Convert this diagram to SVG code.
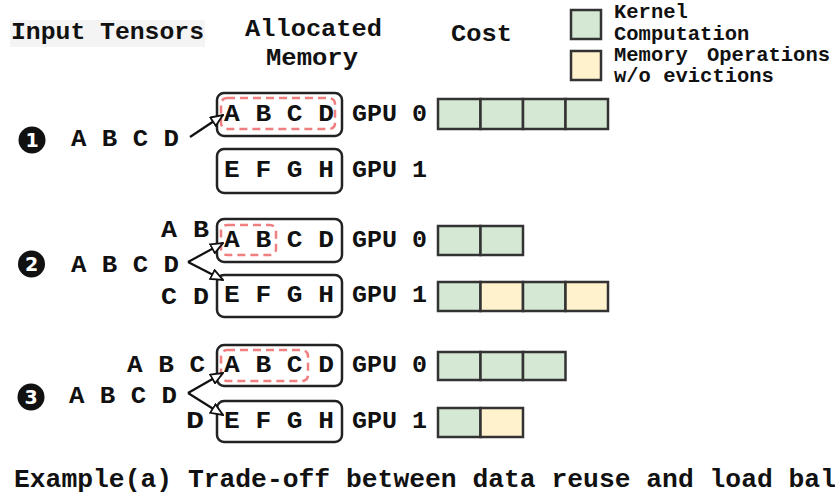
<svg xmlns="http://www.w3.org/2000/svg" width="835" height="494" viewBox="0 0 835 494">
<style>
text{font-family:"Liberation Mono","DejaVu Sans Mono",monospace;font-weight:bold;fill:#111}
.h{font-size:24px}
.l{font-size:24px}
.g{font-size:23px}
.lg{font-size:20.5px}
.cap{font-size:26px}
.box{fill:#fff;stroke:#222;stroke-width:2.5}
.sel{fill:none;stroke:#f07f7f;stroke-width:2.5;stroke-dasharray:8 5}
.k{fill:#d5e8d4;stroke:#333;stroke-width:2.5}
.m{fill:#fff2cc;stroke:#333;stroke-width:2.5}
.arr{fill:none;stroke:#111;stroke-width:2.2;marker-end:url(#ah)}
.badge{fill:#111}
.bt{fill:#fff;font-family:"DejaVu Sans","Liberation Sans",sans-serif;font-size:19px;font-weight:bold;text-anchor:middle}
</style>
<defs>
<marker id="ah" viewBox="0 0 14 12" refX="13" refY="6" markerWidth="14" markerHeight="12" markerUnits="userSpaceOnUse" orient="auto">
<path d="M1,1 L13,6 L1,11 z" fill="#fff" stroke="#111" stroke-width="1.8" stroke-linejoin="miter"/>
</marker>
</defs>
<rect width="835" height="494" fill="#fff"/>

<g id="headers">
<rect x="10" y="20" width="195" height="27" fill="#f4f4f4"/>
<text class="h" x="11" y="39" textLength="193" lengthAdjust="spacingAndGlyphs">Input Tensors</text>
<text class="h" x="245" y="36" textLength="137" lengthAdjust="spacingAndGlyphs">Allocated</text>
<text class="h" x="266" y="65" textLength="92" lengthAdjust="spacingAndGlyphs">Memory</text>
<text class="h" x="451" y="41" textLength="61" lengthAdjust="spacingAndGlyphs">Cost</text>
</g>

<g id="legend">
<rect class="k" x="571" y="10" width="30" height="29"/>
<rect class="m" x="571" y="51" width="30" height="29"/>
<text class="lg" x="614" y="18">Kernel</text>
<text class="lg" x="614" y="40">Computation</text>
<text class="lg" x="614" y="61">Memory<tspan x="707">Operations</tspan></text>
<text class="lg" x="614" y="82">w/o evictions</text>
</g>

<g id="scenario1">
<g id="badge1"><circle class="badge" cx="32" cy="140" r="13.5"/><text class="bt" x="32" y="147">1</text></g>
<g id="input1"><text class="l" x="71" y="146" textLength="108" lengthAdjust="spacingAndGlyphs">A B C D</text></g>
<g id="s1gpu0">
<rect class="box" x="217" y="93" width="125" height="43" rx="7"/>
<rect class="sel" x="221" y="98" width="114" height="31" rx="6"/>
<text class="l" x="224" y="121" textLength="110" lengthAdjust="spacingAndGlyphs">A B C D</text>
<text class="g" x="352" y="121" textLength="75" lengthAdjust="spacingAndGlyphs">GPU 0</text>
</g>
<g id="s1gpu1">
<rect class="box" x="217" y="149" width="125" height="44" rx="7"/>
<text class="l" x="224" y="177" textLength="110" lengthAdjust="spacingAndGlyphs">E F G H</text>
<text class="g" x="352" y="177" textLength="75" lengthAdjust="spacingAndGlyphs">GPU 1</text>
</g>
<g id="s1cost0">
<rect class="k" x="438" y="99" width="42.5" height="30"/>
<rect class="k" x="480.5" y="99" width="42.5" height="30"/>
<rect class="k" x="523" y="99" width="42.5" height="30"/>
<rect class="k" x="565.5" y="99" width="42.5" height="30"/>
</g>
</g>

<g id="scenario2">
<g id="badge2"><circle class="badge" cx="31.5" cy="264" r="13.5"/><text class="bt" x="31.5" y="271">2</text></g>
<g id="input2">
<text class="l" x="161" y="237" textLength="48" lengthAdjust="spacingAndGlyphs">A B</text>
<text class="l" x="71" y="272" textLength="108" lengthAdjust="spacingAndGlyphs">A B C D</text>
<text class="l" x="161" y="304" textLength="48" lengthAdjust="spacingAndGlyphs">C D</text>
</g>
<g id="s2gpu0">
<rect class="box" x="217" y="219" width="125" height="43" rx="7"/>
<rect class="sel" x="221" y="225" width="55" height="30" rx="6"/>
<text class="l" x="224" y="247" textLength="110" lengthAdjust="spacingAndGlyphs">A B C D</text>
<text class="g" x="352" y="247" textLength="75" lengthAdjust="spacingAndGlyphs">GPU 0</text>
</g>
<g id="s2gpu1">
<rect class="box" x="217" y="275" width="125" height="42" rx="7"/>
<text class="l" x="224" y="302" textLength="110" lengthAdjust="spacingAndGlyphs">E F G H</text>
<text class="g" x="352" y="302" textLength="75" lengthAdjust="spacingAndGlyphs">GPU 1</text>
</g>
<g id="s2cost0">
<rect class="k" x="438" y="226" width="42.5" height="29"/>
<rect class="k" x="480.5" y="226" width="42.5" height="29"/>
</g>
<g id="s2cost1">
<rect class="k" x="438" y="282" width="42.5" height="29"/>
<rect class="m" x="480.5" y="282" width="42.5" height="29"/>
<rect class="k" x="523" y="282" width="42.5" height="29"/>
<rect class="m" x="565.5" y="282" width="42.5" height="29"/>
</g>
</g>

<g id="scenario3">
<g id="badge3"><circle class="badge" cx="31" cy="397" r="13.5"/><text class="bt" x="31" y="404">3</text></g>
<g id="input3">
<text class="l" x="127" y="372" textLength="78" lengthAdjust="spacingAndGlyphs">A B C</text>
<text class="l" x="69" y="403" textLength="108" lengthAdjust="spacingAndGlyphs">A B C D</text>
<text class="l" x="186" y="428" textLength="18" lengthAdjust="spacingAndGlyphs">D</text>
</g>
<g id="s3gpu0">
<rect class="box" x="217" y="345" width="125" height="41" rx="7"/>
<rect class="sel" x="221" y="350" width="87" height="31" rx="6"/>
<text class="l" x="224" y="372" textLength="110" lengthAdjust="spacingAndGlyphs">A B C D</text>
<text class="g" x="352" y="372" textLength="75" lengthAdjust="spacingAndGlyphs">GPU 0</text>
</g>
<g id="s3gpu1">
<rect class="box" x="217" y="401" width="125" height="41" rx="7"/>
<text class="l" x="224" y="428" textLength="110" lengthAdjust="spacingAndGlyphs">E F G H</text>
<text class="g" x="352" y="428" textLength="75" lengthAdjust="spacingAndGlyphs">GPU 1</text>
</g>
<g id="s3cost0">
<rect class="k" x="438" y="352" width="42.5" height="28"/>
<rect class="k" x="480.5" y="352" width="42.5" height="28"/>
<rect class="k" x="523" y="352" width="42.5" height="28"/>
</g>
<g id="s3cost1">
<rect class="k" x="438" y="408" width="42.5" height="29"/>
<rect class="m" x="480.5" y="408" width="42.5" height="29"/>
</g>
</g>

<g id="connectors">
<path class="arr" d="M190,137 L223,115"/>
<path class="arr" d="M188,262 L223,243"/>
<path class="arr" d="M188,262 L223,280"/>
<path class="arr" d="M188,393 L223,373"/>
<path class="arr" d="M188,393 L223,415"/>
</g>

<text class="cap" x="14" y="487" textLength="822" lengthAdjust="spacingAndGlyphs">Example(a) Trade-off between data reuse and load bal</text>
</svg>
